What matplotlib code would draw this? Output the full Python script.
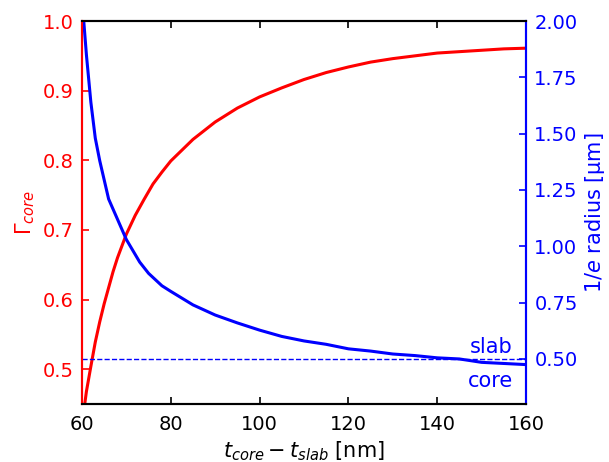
import numpy as np
import matplotlib
matplotlib.use("Agg")
import matplotlib.pyplot as plt

# espesor del nucleo menos espesor del slab [nm]
t_gamma = [60, 61, 62, 63, 64, 65, 66, 67, 68, 70, 72, 74, 76, 78, 80, 85, 90, 95,
           100, 105, 110, 115, 120, 125, 130, 135, 140, 145, 150, 155, 160]
# factor de confinamiento en el nucleo
gamma_core = [0.42, 0.468, 0.504, 0.539, 0.568, 0.594, 0.617, 0.640, 0.660, 0.694,
              0.721, 0.744, 0.766, 0.783, 0.799, 0.830, 0.855, 0.875, 0.891, 0.904,
              0.916, 0.926, 0.934, 0.941, 0.946, 0.950, 0.954, 0.956, 0.958, 0.960,
              0.961]
# radio 1/e del modo [um]
t_radius = [60, 61, 62, 63, 64, 66, 68, 70, 73, 75, 78, 80, 85, 90, 95, 100, 105,
            110, 115, 120, 125, 130, 135, 140, 145, 150, 155, 160]
radius_core = [2.10, 1.85, 1.64, 1.48, 1.38, 1.21, 1.12, 1.03, 0.93, 0.88, 0.825,
               0.80, 0.74, 0.695, 0.66, 0.628, 0.60, 0.58, 0.565, 0.545, 0.535,
               0.522, 0.515, 0.505, 0.50, 0.485, 0.48, 0.475]
radius_slab = 0.50

fig = plt.figure(figsize=(6.09, 4.62), dpi=100)
ax1 = fig.add_axes([0.1346, 0.1255, 0.7291, 0.829])
ax2 = ax1.twinx()

ax1.plot(t_gamma, gamma_core, color='red', linewidth=2.2)
ax2.plot(t_radius, radius_core, color='blue', linewidth=2.2)
ax2.axhline(radius_slab, color='blue', linestyle='--', linewidth=1.0)
ax2.text(157, 0.555, 'slab', color='blue', fontsize=15, ha='right', va='center')
ax2.text(157, 0.40, 'core', color='blue', fontsize=15, ha='right', va='center')

ax1.set_xlim(60, 160)
ax1.set_ylim(0.45, 1.0)
ax2.set_ylim(0.3, 2.0)
ax1.set_xticks(np.arange(60, 161, 20))
ax1.set_yticks(np.arange(0.5, 1.01, 0.1))
ax2.set_yticks(np.arange(0.5, 2.01, 0.25))
ax1.set_yticklabels(['%.1f' % v for v in np.arange(0.5, 1.01, 0.1)])
ax2.set_yticklabels(['%.2f' % v for v in np.arange(0.5, 2.01, 0.25)])

ax1.tick_params(axis='x', direction='in', top=True, length=5, width=1.2, labelsize=14, pad=8)
ax1.tick_params(axis='y', direction='in', colors='red', length=5, width=1.2, labelsize=14, pad=6)
ax2.tick_params(axis='y', direction='in', colors='blue', length=5, width=1.2, labelsize=14, pad=6)

for a in (ax1, ax2):
    for s in a.spines.values():
        s.set_linewidth(1.5)
ax2.spines['left'].set_color('red')
ax2.spines['right'].set_color('blue')
ax1.spines['left'].set_color('red')
ax1.spines['right'].set_color('blue')

ax1.set_xlabel(r'$t_{core} - t_{slab}$ [nm]', fontsize=15)
ax1.set_ylabel(r'$\Gamma_{core}$', color='red', fontsize=15)
ax2.set_ylabel('1/$e$ radius [µm]', color='blue', fontsize=15)

fig.savefig('out.png', dpi=100)
